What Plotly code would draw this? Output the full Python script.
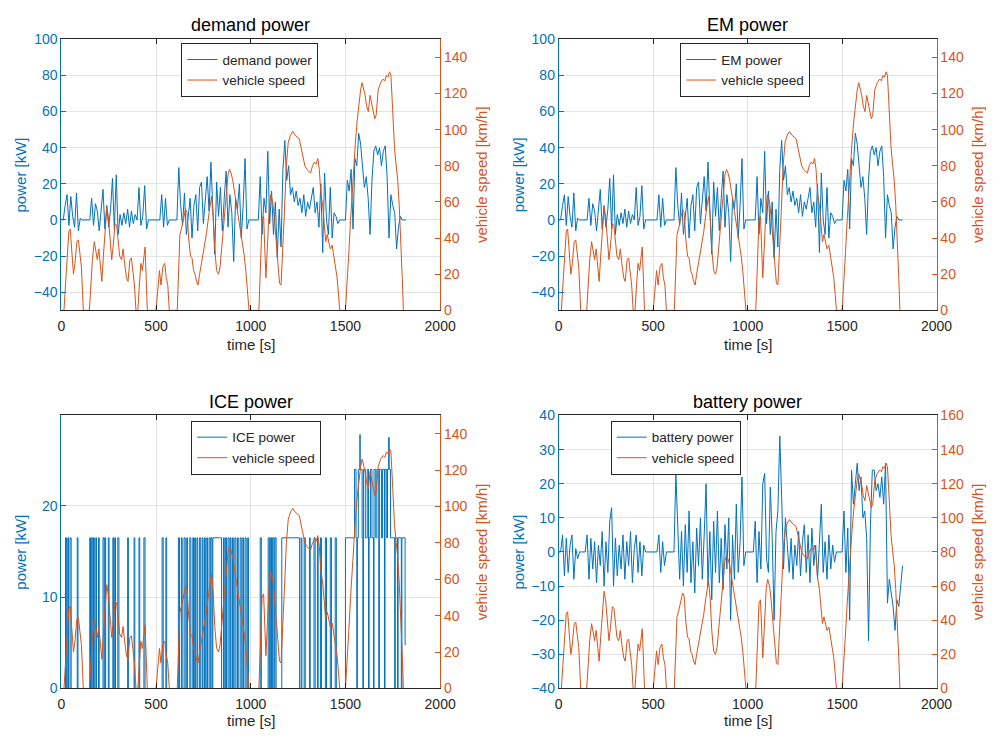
import plotly.graph_objects as go

BLUE = "#0072BD"
ORANGE = "#D95319"
DARK = "#262626"
GRID = "#e3e3e3"
FONT = "Liberation Sans, Arial, Helvetica, sans-serif"

# ---------------- data ----------------
# vehicle speed [km/h] vs time [s]
speed_t = [0, 14, 22, 30, 40, 47, 55, 64, 72, 82, 90, 98, 106, 112, 116, 148, 156, 164, 174, 182,
           190, 198, 206, 214, 222, 232, 240, 248, 258, 266, 274, 284, 292, 300, 308, 318, 326, 334, 344, 352,
           362, 370, 378, 386, 394, 404, 412, 420, 428, 436, 442, 448, 454, 500, 508, 518, 526, 536, 546, 554,
           562, 570, 612, 618, 626, 636, 646, 656, 664, 672, 682, 690, 698, 706, 714, 722, 730, 741, 754, 767,
           780, 793, 802, 810, 820, 830, 838, 846, 853, 862, 871, 880, 888, 896, 905, 914, 922, 931, 940, 948,
           957, 966, 974, 982, 991, 1043, 1050, 1060, 1068, 1074, 1080, 1088, 1098, 1106, 1116, 1124, 1134, 1144, 1152, 1160,
           1168, 1178, 1188, 1198, 1210, 1222, 1234, 1246, 1256, 1266, 1276, 1286, 1296, 1306, 1316, 1326, 1336, 1346, 1354, 1362,
           1370, 1380, 1388, 1396, 1404, 1412, 1420, 1430, 1440, 1448, 1456, 1464, 1470, 1500, 1510, 1518, 1527, 1535, 1544, 1552,
           1561, 1570, 1580, 1588, 1596, 1604, 1612, 1621, 1630, 1638, 1647, 1655, 1662, 1673, 1686, 1699, 1708, 1716, 1724, 1733,
           1740, 1746, 1752, 1759, 1768, 1776, 1784, 1793, 1800, 1806]
speed_v = [0, 0, 14, 30, 44, 45, 32, 20, 26, 38, 39, 30, 24, 10, 0, 0, 18, 28, 38, 32,
           28, 34, 24, 16, 30, 48, 57, 52, 38, 28, 36, 48, 47, 38, 30, 28, 34, 26, 18, 16,
           28, 29, 20, 14, 0, 0, 14, 26, 22, 32, 35, 18, 0, 0, 12, 22, 14, 24, 26, 18,
           14, 0, 0, 22, 42, 46, 52, 56, 54, 40, 30, 29, 22, 20, 16, 14, 20, 27, 36, 43,
           54, 63, 52, 34, 22, 20, 24, 34, 43, 56, 68, 75, 78, 76, 72, 66, 61, 54, 47, 42,
           38, 30, 22, 12, 0, 0, 25, 50, 52, 35, 18, 35, 58, 64, 60, 52, 40, 28, 15, 14,
           30, 55, 80, 93, 97, 99, 97, 96, 95, 90, 84, 80, 78, 77, 76, 80, 82, 81, 84, 78,
           65, 58, 45, 38, 42, 38, 34, 36, 30, 24, 18, 8, 0, 0, 15, 32, 50, 65, 80, 92,
           104, 113, 122, 126, 123, 119, 113, 110, 119, 114, 110, 106, 108, 122, 126, 128, 127, 130, 129, 132,
           130, 118, 100, 90, 80, 72, 58, 40, 18, 0]

# power samples every 10 s (0 ... 1820 s)
power_t = list(range(0, 1830, 10))
demand_power = [
    0, 0, 8, 14, -3, 13, 2, -4, 15, -6,
    1, 0, 0, 0, 0, 0, 12, -3, 9, 5,
    -6, 4, 17, -5, 8, -4, 6, 23, -5, 25,
    -8, 3, -3, 4, -2, 6, -4, 5, -2, 3,
    0, 18, -3, 2, 19, -5, 0, 0, 0, 0,
    0, 0, 0, 14, -4, 12, -3, 0, 0, 0,
    0, 0, 29, 8, -3, 15, -8, 4, 12, -10,
    8, 14, -6, 18, 21, -2, 10, 24, 5, 32,
    6, -19, 21, 2, 18, -6, 12, 27, -4, 14,
    4, -23, 12, 6, 20, -10, 8, 34, -5, 0,
    0, 0, 0, 0, 0, 24, -8, 12, 4, 38,
    -2, 16, -8, 10, -21, 6, -15, 28, 44, 22,
    30, 14, 18, 10, 16, 8, 12, 4, 14, 2,
    10, 6, 12, 18, 4, 10, -4, 20, -18, 26,
    0, -8, 18, -10, 4, 2, -2, 0, 0, 0,
    0, 22, 16, 28, -5, 34, 30, 48, 42, 30,
    18, 24, 12, -8, 22, 38, 41, 36, 40, 30,
    38, 41, 24, -10, 14, 8, 4, -16, -4, 2,
    0, 0, 0]
em_power = list(demand_power)
battery_power = [
    0, 0, 5, -7, 4, -6, 2, 5, -8, 1,
    -2, 0, 0, 0, 0, 5, -8, 4, -5, 3,
    -9, 2, -4, 6, -10, 3, -6, 9, 13, -10,
    4, -7, 2, -5, 5, -8, 3, -4, 6, -9,
    1, 5, -6, 3, -7, 2, 0, 0, 0, 0,
    0, 0, 0, 5, -6, 3, -4, 0, 0, 0,
    0, 0, 23, 4, -8, 6, -10, 8, -6, 12,
    -9, 3, -12, 7, -4, 10, -8, 5, 20, -10,
    6, -14, 9, -6, 12, -9, 4, -11, 8, -5,
    10, -20, 5, -8, 14, -6, 3, 22, -4, 0,
    0, 0, 0, 0, 9, -9, 6, -5, 20, 23,
    -2, -6, 19, 4, -20, 6, 12, 34, 16, -5,
    10, 3, -6, 4, -8, 2, -4, 6, -7, 3,
    8, -6, 5, -9, 7, -4, 2, -8, 4, 14,
    -6, 3, -8, 5, -5, 2, -3, 0, 0, 0,
    0, 12, -6, 7, -20, 24, 14, 20, 26, 18,
    22, 10, 12, 4, -26, 8, 24, 24, 18, 20,
    16, 22, 14, 26, -15, -8, -12, -16, -23, -14,
    -16, -10, -4]

# ICE on/off switching (start, end) at the base operating level
ice_base_level = 16.5
ice_on_intervals = [
    (22, 28), (34, 38), (46, 52), (84, 88), (150, 154), (160, 166), (170, 174), (182, 186), (196, 200),
    (220, 226), (230, 234), (248, 252), (272, 276), (282, 286), (298, 304), (350, 354), (384, 388),
    (410, 414), (436, 442), (532, 538), (552, 556),
    (618, 624), (634, 638), (648, 654), (662, 666), (678, 684), (694, 698), (704, 708), (716, 720),
    (730, 736), (744, 748), (756, 760), (768, 772), (780, 786), (790, 796), (800, 846), (856, 860),
    (866, 872), (880, 886), (892, 896), (904, 908), (916, 922), (930, 934), (944, 950), (958, 962),
    (970, 976), (984, 988),
    (1050, 1056), (1092, 1098), (1102, 1106), (1110, 1114), (1118, 1124), (1128, 1134), (1164, 1258),
    (1266, 1270), (1282, 1288), (1310, 1314), (1334, 1340), (1352, 1356), (1368, 1374), (1394, 1400),
    (1420, 1426), (1446, 1452)]
# extra-high phase ICE levels (change points)
ice_eh_t = [1500, 1548, 1556, 1560, 1563, 1568, 1576, 1578, 1588, 1592, 1595, 1605, 1615, 1622, 1625,
            1632, 1640, 1648, 1651, 1660, 1666, 1676, 1679, 1690, 1696, 1706, 1709, 1718, 1722, 1728,
            1731, 1738, 1760, 1763, 1775, 1778, 1795, 1798, 1815, 1820]
ice_eh_p = [16.5, 24, 16.5, 0, 16.5, 24, 27.8, 24, 16.5, 0, 24, 16.5, 24, 0, 16.5,
            24, 16.5, 0, 24, 16.5, 24, 0, 24, 16.5, 24, 0, 24, 16.5, 24, 27.5,
            24, 16.5, 0, 16.5, 0, 16.5, 0, 16.5, 4.8, 4.8]

ice_t = [0]
ice_p = [0]
for s, e in ice_on_intervals:
    ice_t += [s, e]
    ice_p += [ice_base_level, 0]
ice_t += ice_eh_t
ice_p += ice_eh_p

titles = ["demand power", "EM power", "ICE power", "battery power"]

# ---------------- figure ----------------
fig = go.Figure()

xdom_l = [58.5 / 1005, 445 / 1005]
xdom_r = [566 / 1005, 951.5 / 1005]
ydom_t = [1 - 309 / 740, 1 - 32 / 740]
ydom_b = [1 - 695.5 / 740, 1 - 416.5 / 740]

panels = [
    dict(name="demand power", x=power_t, y=demand_power, shape="linear", xd=xdom_l, yd=ydom_t,
         yr=[-50, 100], yt=[-40, -20, 0, 20, 40, 60, 80, 100], y2r=[0, 150], y2t=list(range(0, 141, 20)),
         leg=(181, 36)),
    dict(name="EM power", x=power_t, y=em_power, shape="linear", xd=xdom_r, yd=ydom_t,
         yr=[-50, 100], yt=[-40, -20, 0, 20, 40, 60, 80, 100], y2r=[0, 150], y2t=list(range(0, 141, 20)),
         leg=(690, 36)),
    dict(name="ICE power", x=ice_t, y=ice_p, shape="hv", xd=xdom_l, yd=ydom_b,
         yr=[0, 29.9], yt=[0, 10, 20], y2r=[0, 150], y2t=list(range(0, 141, 20)),
         leg=(191, 422)),
    dict(name="battery power", x=power_t, y=battery_power, shape="linear", xd=xdom_r, yd=ydom_b,
         yr=[-40, 40], yt=list(range(-40, 41, 10)), y2r=[0, 160], y2t=list(range(0, 161, 20)),
         leg=(619, 422)),
]

layout = dict(
    width=1005, height=740, margin=dict(l=0, r=0, t=0, b=0),
    paper_bgcolor="white", plot_bgcolor="white",
    font=dict(family=FONT, size=14, color=DARK),
    annotations=[],
)

for i, p in enumerate(panels):
    n = i + 1
    xa = "x" if n == 1 else f"x{n}"
    ya = f"y{2 * n - 1}" if n > 1 else "y"
    yb = f"y{2 * n}"
    leg = "legend" if n == 1 else f"legend{n}"
    fig.add_trace(go.Scatter(x=p["x"], y=p["y"], mode="lines", name=p["name"],
                             line=dict(color=BLUE, width=1, shape=p["shape"]),
                             xaxis=xa, yaxis=ya, legend=leg))
    fig.add_trace(go.Scatter(x=speed_t, y=speed_v, mode="lines", name="vehicle speed",
                             line=dict(color=ORANGE, width=1),
                             xaxis=xa, yaxis=yb, legend=leg))
    xkey = "xaxis" if n == 1 else f"xaxis{n}"
    ykey = "yaxis" if n == 1 else f"yaxis{2 * n - 1}"
    y2key = f"yaxis{2 * n}"
    layout[xkey] = dict(domain=p["xd"], anchor=ya, range=[0, 2000], tickvals=[0, 500, 1000, 1500, 2000],
                        ticks="inside", ticklen=5, tickcolor=DARK, showline=True, linecolor=DARK,
                        linewidth=1, mirror="ticks", showgrid=True, gridcolor=GRID, zeroline=False,
                        ticklabelstandoff=3,
                        tickfont=dict(size=14, color=DARK))
    layout[ykey] = dict(domain=p["yd"], anchor=xa, range=p["yr"], tickvals=p["yt"],
                        ticks="inside", ticklen=5, tickcolor=BLUE, showline=True, linecolor=BLUE,
                        linewidth=1, showgrid=True, gridcolor=GRID, zeroline=False,
                        tickfont=dict(size=14, color=BLUE))
    layout[y2key] = dict(overlaying=ya, anchor=xa, side="right", range=p["y2r"], tickvals=p["y2t"],
                         ticks="inside", ticklen=5, tickcolor=ORANGE, showline=True, linecolor=ORANGE,
                         linewidth=1, showgrid=False, zeroline=False,
                         tickfont=dict(size=14, color=ORANGE))
    lx, ly = p["leg"]
    layout[leg] = dict(x=lx / 1005, y=1 - ly / 740, xanchor="left", yanchor="top",
                       bgcolor="white", bordercolor=DARK, borderwidth=1,
                       font=dict(size=13.5, color=DARK, family=FONT), tracegroupgap=0)
    # annotations: title, axis labels
    cx = (p["xd"][0] + p["xd"][1]) / 2
    top_px = 17 if p["yd"] is ydom_t else 403
    layout["annotations"].append(dict(text=titles[i], x=cx, y=1 - top_px / 740, xref="paper", yref="paper",
                                      showarrow=False, font=dict(size=18, color="black"),
                                      xanchor="center", yanchor="middle"))
    xl_px = 344 if p["yd"] is ydom_t else 728
    layout["annotations"].append(dict(text="time [s]", x=cx, y=1 - xl_px / 740, xref="paper", yref="paper",
                                      showarrow=False, font=dict(size=15, color=DARK),
                                      xanchor="center", yanchor="middle"))
    cy = (p["yd"][0] + p["yd"][1]) / 2
    left_px = 17 if p["xd"] is xdom_l else 525
    right_px = 488 if p["xd"] is xdom_l else 994
    layout["annotations"].append(dict(text="power [kW]", x=left_px / 1005, y=cy, xref="paper", yref="paper",
                                      showarrow=False, textangle=-90, font=dict(size=15, color=BLUE),
                                      xanchor="center", yanchor="middle"))
    layout["annotations"].append(dict(text="vehicle speed [km/h]", x=right_px / 1005, y=cy, xref="paper",
                                      yref="paper", showarrow=False, textangle=-90,
                                      font=dict(size=15, color=ORANGE), xanchor="center", yanchor="middle"))

fig.update_layout(**layout)
fig.write_html("out.html")
